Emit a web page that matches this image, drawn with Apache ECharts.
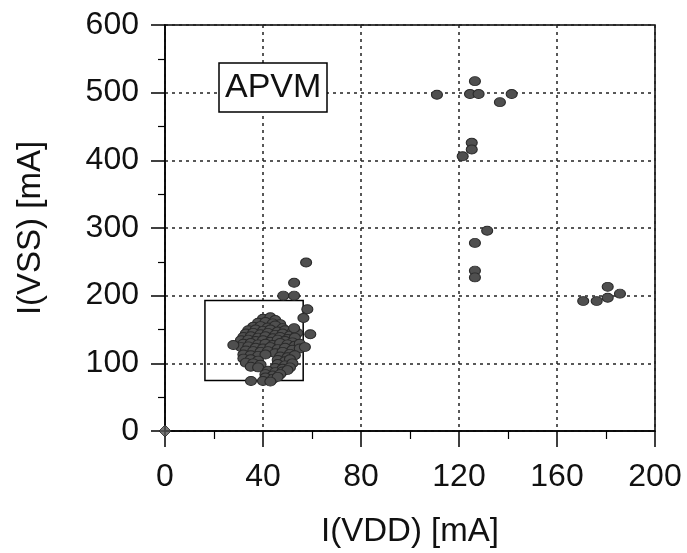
<!DOCTYPE html>
<html>
<head>
<meta charset="utf-8">
<script src="https://cdn.jsdelivr.net/npm/echarts@6/dist/echarts.min.js"></script>
<style>
html,body{margin:0;padding:0;background:#fff;}
#chart{width:687px;height:553px;}
</style>
</head>
<body>
<div id="chart"></div>
<script>
// Axis ticks
const xTicks = [0, 40, 80, 120, 160, 200];
const yTicks = [0, 100, 200, 300, 400, 500, 600];
const xName = 'I(VDD) [mA]';
const yName = 'I(VSS) [mA]';
const labelText = 'APVM';

// Dense cluster of measurements [I(VDD), I(VSS)]
const clusterPoints = [
  [40,166],[43,168],[45,164],
  [38,160],[41,161],[44,159],[47,158],
  [36,154],[39,155],[42,153],[45,156],[48,152],
  [34,149],[37,150],[40,148],[43,150],[46,147],[49,149],[52,146],
  [33,144],[36,145],[39,143],[42,145],[45,142],[48,144],[51,141],[54,145],
  [32,139],[35,140],[38,138],[41,140],[44,137],[47,139],[50,136],[53,138],
  [31,134],[34,135],[37,133],[40,134],[43,132],[46,135],[49,133],[52,131],
  [32,129],[35,130],[38,128],[41,129],[44,127],[47,130],[50,128],[53,126],[55,129],
  [31,124],[34,125],[37,123],[40,122],[43,124],[46,121],[49,123],[52,120],[55,122],
  [33,119],[36,118],[39,117],[42,118],[45,115],[48,117],[51,114],
  [32,113],[35,112],[38,111],[41,113],[47,110],[50,109],[53,112],
  [32,107],[35,106],[38,104],[46,105],[49,103],[51,106],
  [33,101],[36,100],[39,98],[46,99],[49,97],[52,100],
  [35,95],[38,94],[45,93],[48,92],[51,94],
  [42,89],[45,87],[48,88],[50,90],
  [41,84],[44,82],[47,84],
  [41,79],[44,77],[46,80],
  [40,74],[43,73]
];
// Scattered points around the cluster
const edgePoints = [
  [57.6,249],[52.7,219],[48.3,200],[52.7,200],[58.1,180],[56.5,167],
  [52.7,152],[59.3,143],[57.1,124],[27.9,127],[35.1,74]
];
// High-current groups
const highPoints = [[111,497],[124.5,498],[128,498],[126.5,517],[136.7,486],[141.5,498]];
const midPoints = [[125.2,426],[125.2,416],[121.5,406],[131.5,296],[126.5,278],[126.5,237],[126.5,227]];
const rightPoints = [[170.7,192],[176.2,192],[180.7,213],[180.7,197],[185.7,203]];
const originPoint = [[0,0]];
// Box drawn round the cluster: [xMin, xMax, yMin, yMax]
const clusterBox = [16.3, 56.4, 74.6, 192.7];

const allPoints = clusterPoints.concat(edgePoints, highPoints, midPoints, rightPoints);

const chart = echarts.init(document.getElementById('chart'), null, {renderer: 'canvas'});
const font = 'Liberation Sans, Arial, sans-serif';
const dotStyle = {color: '#4f4f4f', borderColor: '#2a2a2a', borderWidth: 1, opacity: 1};

chart.setOption({
  animation: false,
  backgroundColor: '#fff',
  title: {
    text: labelText,
    left: 219, top: 63,
    padding: [7, 6, 6, 6],
    borderColor: '#000', borderWidth: 1.5,
    backgroundColor: '#fff',
    textStyle: {fontFamily: font, fontSize: 34, fontWeight: 'normal', color: '#111', lineHeight: 36}
  },
  grid: {left: 165, right: 32, top: 25, bottom: 120, show: true, borderColor: '#000', borderWidth: 1.5},
  xAxis: {
    type: 'value', min: xTicks[0], max: xTicks[xTicks.length - 1], interval: 40,
    name: xName, nameLocation: 'middle', nameGap: 84,
    nameTextStyle: {fontFamily: font, fontSize: 33, color: '#111'},
    axisLine: {show: true, onZero: false, lineStyle: {color: '#000', width: 1.5}},
    axisTick: {show: true, length: 16, lineStyle: {color: '#000', width: 1.5}},
    minorTick: {show: true, splitNumber: 2, length: 8, lineStyle: {color: '#000', width: 1.2}},
    axisLabel: {fontFamily: font, fontSize: 32, color: '#111', margin: 30},
    splitLine: {show: true, lineStyle: {color: '#222', width: 1.5, type: [3, 4]}}
  },
  yAxis: {
    type: 'value', min: yTicks[0], max: yTicks[yTicks.length - 1], interval: 100,
    name: yName, nameLocation: 'middle', nameGap: 118, nameRotate: 90,
    nameTextStyle: {fontFamily: font, fontSize: 33, color: '#111'},
    axisLine: {show: true, onZero: false, lineStyle: {color: '#000', width: 1.5}},
    axisTick: {show: true, length: 14, lineStyle: {color: '#000', width: 1.5}},
    minorTick: {show: true, splitNumber: 2, length: 7, lineStyle: {color: '#000', width: 1.2}},
    axisLabel: {fontFamily: font, fontSize: 32, color: '#111', margin: 26},
    splitLine: {show: true, lineStyle: {color: '#222', width: 1.5, type: [3, 4]}}
  },
  series: [
    {
      type: 'scatter', data: allPoints, symbol: 'circle', symbolSize: [11, 9],
      itemStyle: dotStyle, z: 3,
      markArea: {
        silent: true,
        itemStyle: {color: 'rgba(0,0,0,0)', borderColor: '#000', borderWidth: 1.5},
        data: [[{coord: [clusterBox[0], clusterBox[3]]}, {coord: [clusterBox[1], clusterBox[2]]}]]
      }
    },
    {
      type: 'scatter', data: originPoint, symbol: 'diamond', symbolSize: 12,
      itemStyle: {color: '#555', borderColor: '#222', borderWidth: 1}, z: 4
    }
  ]
});
</script>
</body>
</html>
